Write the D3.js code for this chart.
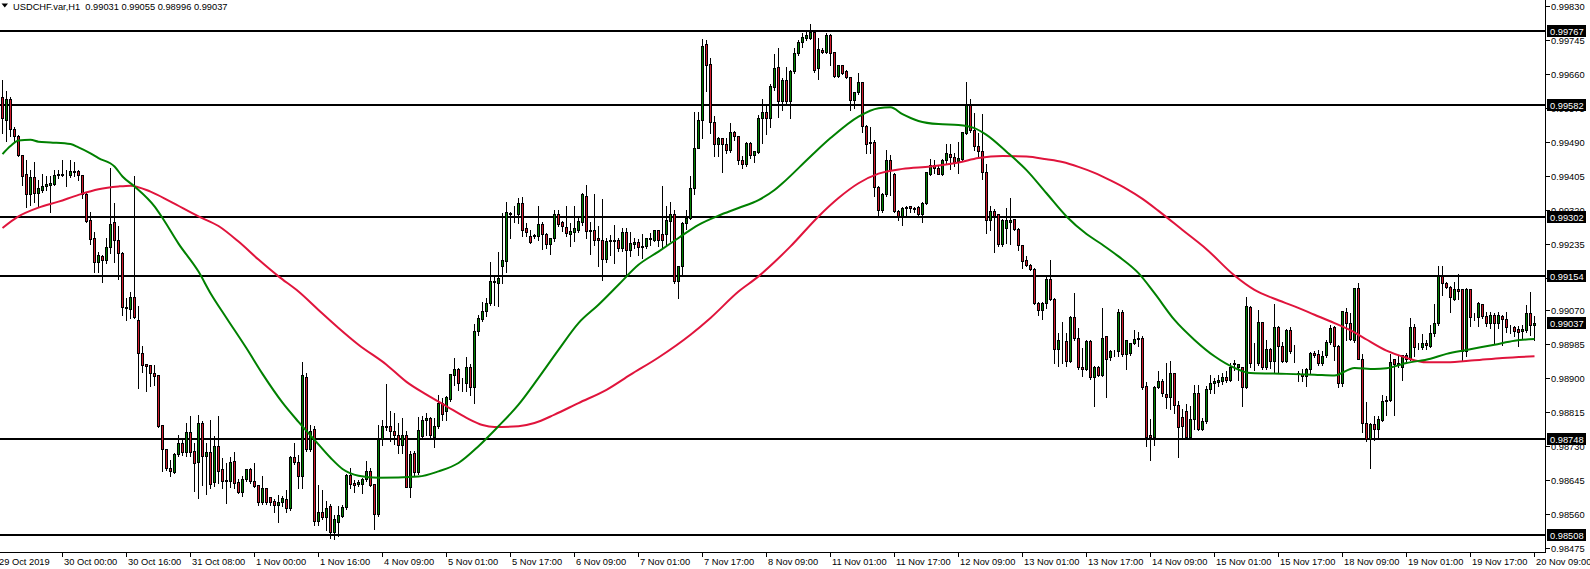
<!DOCTYPE html>
<html><head><meta charset="utf-8">
<script src="https://cdn.jsdelivr.net/npm/d3@7"></script>
<style>
html,body{margin:0;padding:0;background:#fff;overflow:hidden;}
svg{display:block;}
text{font-family:"Liberation Sans",Arial,sans-serif;}
</style></head><body>
<svg id="chart" width="1590" height="569"></svg>
<script>
// ---------------- DATA ----------------
const symbolTitle = "USDCHF.var,H1";
const headerValues = ["0.99031", "0.99055", "0.98996", "0.99037"];
const lastPrice = 0.99037;

// hourly candles [open, high, low, close], first bar 29 Oct 2019 09:00
const ohlc = [
[0.99602,0.99645,0.99514,0.99550],[0.99545,0.99618,0.99494,0.99597],[0.99597,0.99602,0.99505,0.99522],[0.99522,0.99529,0.99494,0.99504],
[0.99504,0.99508,0.99454,0.99456],[0.99456,0.99458,0.99383,0.99405],[0.99410,0.99446,0.99327,0.99360],[0.99360,0.99420,0.99333,0.99402],
[0.99402,0.99439,0.99341,0.99362],[0.99362,0.99396,0.99330,0.99373],[0.99369,0.99410,0.99366,0.99379],[0.99380,0.99404,0.99370,0.99383],
[0.99381,0.99405,0.99316,0.99386],[0.99385,0.99420,0.99383,0.99406],[0.99407,0.99420,0.99400,0.99410],[0.99407,0.99444,0.99404,0.99410],
[0.99407,0.99420,0.99381,0.99406],[0.99407,0.99446,0.99402,0.99417],[0.99414,0.99441,0.99405,0.99417],[0.99416,0.99420,0.99394,0.99406],
[0.99406,0.99408,0.99350,0.99360],[0.99358,0.99362,0.99289,0.99291],[0.99294,0.99316,0.99236,0.99247],[0.99250,0.99266,0.99165,0.99189],
[0.99189,0.99214,0.99166,0.99206],[0.99204,0.99208,0.99140,0.99194],[0.99194,0.99250,0.99187,0.99225],[0.99225,0.99425,0.99212,0.99285],
[0.99290,0.99337,0.99190,0.99245],[0.99245,0.99279,0.99147,0.99212],[0.99212,0.99214,0.99058,0.99077],[0.99077,0.99100,0.99045,0.99073],
[0.99072,0.99116,0.99050,0.99102],[0.99102,0.99405,0.99050,0.99052],[0.99043,0.99079,0.98875,0.98960],[0.98962,0.98980,0.98914,0.98930],
[0.98934,0.98935,0.98866,0.98929],[0.98931,0.98933,0.98879,0.98910],[0.98910,0.98931,0.98883,0.98904],[0.98906,0.98908,0.98776,0.98779],
[0.98780,0.98783,0.98666,0.98720],[0.98720,0.98722,0.98670,0.98672],[0.98673,0.98695,0.98655,0.98665],[0.98664,0.98712,0.98662,0.98708],
[0.98708,0.98758,0.98704,0.98737],[0.98737,0.98745,0.98708,0.98712],[0.98714,0.98786,0.98704,0.98764],[0.98764,0.98804,0.98704,0.98714],
[0.98715,0.98737,0.98616,0.98685],[0.98687,0.98806,0.98600,0.98785],[0.98785,0.98791,0.98633,0.98704],[0.98704,0.98737,0.98610,0.98712],
[0.98712,0.98794,0.98625,0.98633],[0.98637,0.98754,0.98630,0.98729],[0.98729,0.98804,0.98637,0.98665],[0.98670,0.98700,0.98625,0.98641],
[0.98640,0.98687,0.98587,0.98644],[0.98640,0.98701,0.98627,0.98687],[0.98690,0.98714,0.98625,0.98636],[0.98637,0.98647,0.98612,0.98614],
[0.98612,0.98654,0.98604,0.98645],[0.98645,0.98672,0.98641,0.98670],[0.98670,0.98675,0.98637,0.98641],[0.98640,0.98687,0.98627,0.98629],
[0.98630,0.98633,0.98581,0.98587],[0.98587,0.98655,0.98585,0.98622],[0.98622,0.98624,0.98585,0.98589],[0.98600,0.98601,0.98583,0.98587],
[0.98590,0.98596,0.98564,0.98580],[0.98580,0.98608,0.98540,0.98589],[0.98587,0.98604,0.98579,0.98597],[0.98596,0.98620,0.98565,0.98572],
[0.98572,0.98704,0.98570,0.98700],[0.98700,0.98737,0.98685,0.98687],[0.98687,0.98708,0.98625,0.98654],[0.98654,0.98940,0.98625,0.98905],
[0.98900,0.98912,0.98716,0.98720],[0.98720,0.98783,0.98716,0.98766],[0.98770,0.98779,0.98533,0.98541],[0.98541,0.98633,0.98533,0.98562],
[0.98562,0.98620,0.98547,0.98550],[0.98550,0.98591,0.98520,0.98572],[0.98579,0.98585,0.98500,0.98512],[0.98512,0.98558,0.98498,0.98545],
[0.98537,0.98579,0.98505,0.98555],[0.98554,0.98583,0.98552,0.98575],[0.98575,0.98660,0.98572,0.98656],[0.98656,0.98675,0.98625,0.98633],
[0.98636,0.98644,0.98614,0.98631],[0.98633,0.98645,0.98630,0.98637],[0.98633,0.98650,0.98612,0.98645],[0.98645,0.98691,0.98643,0.98666],
[0.98666,0.98675,0.98629,0.98631],[0.98633,0.98635,0.98522,0.98558],[0.98558,0.98783,0.98554,0.98745],[0.98745,0.98795,0.98733,0.98779],
[0.98776,0.98885,0.98770,0.98779],[0.98779,0.98816,0.98741,0.98765],[0.98765,0.98812,0.98735,0.98756],[0.98756,0.98787,0.98712,0.98731],
[0.98731,0.98800,0.98712,0.98756],[0.98756,0.98768,0.98626,0.98626],[0.98625,0.98716,0.98601,0.98708],[0.98710,0.98716,0.98655,0.98662],
[0.98662,0.98801,0.98660,0.98768],[0.98754,0.98804,0.98750,0.98793],[0.98793,0.98812,0.98758,0.98798],[0.98798,0.98801,0.98750,0.98756],
[0.98750,0.98800,0.98726,0.98779],[0.98779,0.98858,0.98775,0.98835],[0.98835,0.98850,0.98795,0.98808],[0.98816,0.98854,0.98795,0.98850],
[0.98846,0.98910,0.98841,0.98908],[0.98906,0.98950,0.98883,0.98920],[0.98920,0.98925,0.98870,0.98885],[0.98885,0.98900,0.98866,0.98886],
[0.98885,0.98951,0.98866,0.98925],[0.98925,0.98935,0.98858,0.98876],[0.98876,0.99035,0.98837,0.99016],[0.99015,0.99058,0.99008,0.99048],
[0.99045,0.99091,0.99043,0.99065],[0.99065,0.99100,0.99054,0.99085],[0.99085,0.99191,0.99083,0.99140],[0.99139,0.99158,0.99083,0.99141],
[0.99137,0.99215,0.99079,0.99148],[0.99179,0.99312,0.99137,0.99193],[0.99191,0.99341,0.99166,0.99315],[0.99308,0.99316,0.99251,0.99312],
[0.99308,0.99329,0.99291,0.99310],[0.99308,0.99350,0.99287,0.99337],[0.99337,0.99352,0.99254,0.99270],[0.99273,0.99287,0.99254,0.99265],
[0.99255,0.99270,0.99237,0.99240],[0.99253,0.99260,0.99250,0.99256],[0.99254,0.99329,0.99245,0.99285],[0.99285,0.99291,0.99223,0.99260],
[0.99260,0.99262,0.99225,0.99233],[0.99233,0.99251,0.99211,0.99248],[0.99248,0.99320,0.99243,0.99308],[0.99310,0.99320,0.99279,0.99283],
[0.99289,0.99293,0.99268,0.99279],[0.99276,0.99330,0.99254,0.99261],[0.99260,0.99287,0.99229,0.99266],[0.99265,0.99330,0.99243,0.99273],
[0.99270,0.99306,0.99266,0.99291],[0.99290,0.99362,0.99283,0.99358],[0.99355,0.99383,0.99251,0.99266],[0.99270,0.99290,0.99210,0.99266],
[0.99268,0.99360,0.99233,0.99243],[0.99248,0.99279,0.99181,0.99243],[0.99245,0.99348,0.99145,0.99195],[0.99195,0.99250,0.99190,0.99241],
[0.99241,0.99258,0.99208,0.99245],[0.99245,0.99283,0.99187,0.99241],[0.99245,0.99251,0.99218,0.99223],[0.99223,0.99275,0.99218,0.99265],
[0.99265,0.99275,0.99160,0.99218],[0.99218,0.99265,0.99204,0.99237],[0.99235,0.99250,0.99226,0.99240],[0.99240,0.99248,0.99208,0.99225],
[0.99226,0.99260,0.99201,0.99228],[0.99229,0.99250,0.99226,0.99248],[0.99247,0.99262,0.99233,0.99250],[0.99245,0.99268,0.99243,0.99268],
[0.99268,0.99270,0.99229,0.99243],[0.99260,0.99379,0.99226,0.99243],[0.99258,0.99329,0.99231,0.99293],[0.99291,0.99341,0.99243,0.99310],
[0.99310,0.99320,0.99137,0.99141],[0.99141,0.99181,0.99101,0.99179],[0.99179,0.99291,0.99160,0.99287],[0.99287,0.99320,0.99273,0.99300],
[0.99300,0.99406,0.99298,0.99373],[0.99373,0.99565,0.99360,0.99475],[0.99475,0.99565,0.99474,0.99545],[0.99545,0.99748,0.99500,0.99730],
[0.99733,0.99745,0.99618,0.99681],[0.99685,0.99700,0.99512,0.99540],[0.99540,0.99556,0.99454,0.99485],[0.99485,0.99504,0.99454,0.99498],
[0.99498,0.99501,0.99414,0.99485],[0.99485,0.99500,0.99462,0.99468],[0.99468,0.99537,0.99466,0.99515],[0.99515,0.99518,0.99495,0.99503],
[0.99504,0.99506,0.99435,0.99445],[0.99445,0.99456,0.99426,0.99435],[0.99433,0.99491,0.99431,0.99487],[0.99487,0.99490,0.99451,0.99456],
[0.99456,0.99468,0.99440,0.99466],[0.99465,0.99558,0.99462,0.99550],[0.99550,0.99598,0.99487,0.99565],[0.99565,0.99583,0.99510,0.99550],
[0.99550,0.99635,0.99529,0.99628],[0.99626,0.99710,0.99620,0.99675],[0.99676,0.99725,0.99554,0.99591],[0.99591,0.99650,0.99570,0.99645],
[0.99645,0.99679,0.99587,0.99591],[0.99591,0.99670,0.99550,0.99666],[0.99666,0.99725,0.99662,0.99712],[0.99712,0.99745,0.99708,0.99739],
[0.99739,0.99764,0.99729,0.99752],[0.99750,0.99766,0.99745,0.99758],[0.99750,0.99785,0.99747,0.99764],[0.99765,0.99766,0.99666,0.99670],
[0.99675,0.99750,0.99647,0.99722],[0.99720,0.99725,0.99712,0.99714],[0.99714,0.99762,0.99712,0.99758],[0.99758,0.99760,0.99683,0.99712],
[0.99715,0.99716,0.99652,0.99654],[0.99654,0.99683,0.99652,0.99681],[0.99681,0.99683,0.99660,0.99662],[0.99666,0.99670,0.99650,0.99652],
[0.99652,0.99654,0.99570,0.99594],[0.99594,0.99616,0.99575,0.99614],[0.99614,0.99662,0.99610,0.99639],[0.99639,0.99641,0.99516,0.99529],
[0.99530,0.99533,0.99462,0.99485],[0.99489,0.99529,0.99462,0.99487],[0.99490,0.99496,0.99354,0.99377],[0.99377,0.99379,0.99305,0.99320],
[0.99320,0.99362,0.99316,0.99358],[0.99358,0.99470,0.99355,0.99443],[0.99443,0.99458,0.99358,0.99420],[0.99410,0.99412,0.99314,0.99316],
[0.99316,0.99320,0.99295,0.99304],[0.99304,0.99327,0.99283,0.99323],[0.99323,0.99329,0.99304,0.99327],[0.99329,0.99330,0.99316,0.99323],
[0.99324,0.99327,0.99314,0.99322],[0.99327,0.99329,0.99302,0.99310],[0.99310,0.99339,0.99290,0.99337],[0.99337,0.99416,0.99335,0.99414],
[0.99410,0.99447,0.99408,0.99432],[0.99432,0.99445,0.99412,0.99423],[0.99423,0.99429,0.99410,0.99410],[0.99410,0.99447,0.99408,0.99445],
[0.99445,0.99485,0.99437,0.99462],[0.99460,0.99485,0.99423,0.99451],[0.99451,0.99462,0.99430,0.99439],[0.99441,0.99491,0.99412,0.99450],
[0.99447,0.99516,0.99445,0.99515],[0.99512,0.99640,0.99510,0.99581],[0.99581,0.99598,0.99516,0.99520],[0.99520,0.99562,0.99469,0.99479],
[0.99480,0.99512,0.99454,0.99466],[0.99466,0.99560,0.99397,0.99414],[0.99414,0.99435,0.99262,0.99295],[0.99294,0.99329,0.99269,0.99316],
[0.99316,0.99322,0.99215,0.99305],[0.99308,0.99310,0.99229,0.99233],[0.99233,0.99297,0.99231,0.99295],[0.99275,0.99325,0.99237,0.99294],
[0.99290,0.99350,0.99235,0.99294],[0.99297,0.99298,0.99271,0.99272],[0.99272,0.99275,0.99220,0.99231],[0.99231,0.99233,0.99175,0.99191],
[0.99193,0.99205,0.99179,0.99180],[0.99181,0.99185,0.99170,0.99172],[0.99172,0.99175,0.99085,0.99087],[0.99087,0.99089,0.99058,0.99069],
[0.99069,0.99089,0.99047,0.99087],[0.99085,0.99154,0.99075,0.99145],[0.99145,0.99195,0.99095,0.99097],[0.99097,0.99099,0.98937,0.98970],
[0.98970,0.99012,0.98929,0.98993],[0.98991,0.99041,0.98937,0.98990],[0.98991,0.99012,0.98930,0.98941],[0.98941,0.99054,0.98939,0.99052],
[0.99052,0.99112,0.98995,0.98999],[0.98999,0.99025,0.98922,0.98925],[0.98927,0.98975,0.98904,0.98922],[0.98922,0.98994,0.98920,0.98991],
[0.98991,0.98994,0.98897,0.98900],[0.98900,0.98929,0.98829,0.98925],[0.98926,0.98929,0.98904,0.98905],[0.98905,0.99075,0.98904,0.98999],
[0.99004,0.99005,0.98852,0.98947],[0.98950,0.98970,0.98945,0.98966],[0.98966,0.98969,0.98954,0.98965],[0.98966,0.99072,0.98954,0.99064],
[0.99064,0.99069,0.98955,0.98958],[0.98958,0.98995,0.98922,0.98994],[0.98960,0.98987,0.98958,0.98985],[0.98987,0.99019,0.98985,0.98995],
[0.98999,0.99016,0.98979,0.98995],[0.98999,0.99004,0.98872,0.98875],[0.98879,0.98889,0.98729,0.98752],[0.98756,0.98796,0.98694,0.98752],
[0.98752,0.98879,0.98733,0.98877],[0.98877,0.98916,0.98875,0.98890],[0.98890,0.98896,0.98854,0.98860],[0.98858,0.98937,0.98825,0.98850],
[0.98850,0.98941,0.98822,0.98910],[0.98910,0.98912,0.98812,0.98831],[0.98831,0.98841,0.98701,0.98775],[0.98800,0.98822,0.98750,0.98779],
[0.98815,0.98835,0.98746,0.98752],[0.98752,0.98829,0.98750,0.98797],[0.98795,0.98883,0.98772,0.98860],[0.98860,0.98883,0.98770,0.98772],
[0.98772,0.98800,0.98770,0.98790],[0.98790,0.98879,0.98787,0.98872],[0.98872,0.98907,0.98862,0.98885],[0.98885,0.98900,0.98862,0.98891],
[0.98889,0.98908,0.98879,0.98893],[0.98891,0.98912,0.98885,0.98900],[0.98900,0.98916,0.98889,0.98893],[0.98894,0.98937,0.98891,0.98927],
[0.98935,0.98945,0.98920,0.98933],[0.98925,0.98935,0.98895,0.98933],[0.98925,0.98927,0.98829,0.98877],[0.98877,0.99102,0.98875,0.99079],
[0.99077,0.99081,0.98927,0.98935],[0.98935,0.98987,0.98920,0.98936],[0.98935,0.99070,0.98933,0.99039],[0.99039,0.99041,0.98922,0.98925],
[0.98925,0.98994,0.98922,0.98970],[0.98970,0.98975,0.98925,0.98941],[0.98941,0.99085,0.98914,0.99027],[0.99027,0.99030,0.98914,0.98979],
[0.98979,0.98991,0.98939,0.98941],[0.98941,0.99022,0.98939,0.99018],[0.99018,0.99027,0.98962,0.98965],[0.98966,0.98983,0.98939,0.98965],
[0.98912,0.98918,0.98891,0.98908],[0.98908,0.98921,0.98891,0.98904],[0.98904,0.98925,0.98879,0.98922],[0.98922,0.98964,0.98910,0.98962],
[0.98962,0.98966,0.98952,0.98955],[0.98958,0.98970,0.98933,0.98935],[0.98935,0.98966,0.98933,0.98954],[0.98955,0.98996,0.98953,0.98989],
[0.98989,0.99033,0.98985,0.99023],[0.99025,0.99029,0.98945,0.98979],[0.98979,0.98983,0.98877,0.98887],[0.98885,0.99066,0.98880,0.99065],
[0.99064,0.99076,0.98994,0.99037],[0.99037,0.99062,0.98994,0.98997],[0.98994,0.99125,0.98989,0.99123],[0.99123,0.99137,0.98947,0.98947],
[0.98947,0.98960,0.98764,0.98785],[0.98787,0.98839,0.98741,0.98745],[0.98745,0.98787,0.98675,0.98783],[0.98783,0.98804,0.98745,0.98770],
[0.98770,0.98804,0.98747,0.98795],[0.98794,0.98858,0.98791,0.98841],[0.98841,0.98854,0.98808,0.98843],[0.98844,0.98960,0.98842,0.98939],
[0.98946,0.98947,0.98808,0.98933],[0.98933,0.98954,0.98927,0.98937],[0.98925,0.98955,0.98895,0.98955],[0.98955,0.98962,0.98941,0.98947],
[0.98947,0.99050,0.98945,0.99025],[0.99027,0.99035,0.98954,0.98977],[0.98977,0.98987,0.98972,0.98975],[0.98975,0.99010,0.98972,0.98987],
[0.98985,0.98995,0.98972,0.98982],[0.98979,0.99033,0.98977,0.99010],[0.99010,0.99085,0.99005,0.99035],[0.99035,0.99180,0.99033,0.99154],
[0.99154,0.99180,0.99108,0.99135],[0.99135,0.99141,0.99125,0.99127],[0.99127,0.99129,0.99066,0.99101],[0.99095,0.99141,0.99094,0.99120],
[0.99120,0.99160,0.99097,0.99116],[0.99120,0.99122,0.98941,0.98966],[0.98966,0.99125,0.98955,0.99122],[0.99120,0.99122,0.99029,0.99050],
[0.99051,0.99062,0.99046,0.99050],[0.99050,0.99089,0.99029,0.99085],[0.99083,0.99085,0.99050,0.99054],[0.99054,0.99066,0.99029,0.99037],
[0.99037,0.99066,0.99025,0.99055],[0.99055,0.99062,0.98985,0.99037],[0.99037,0.99066,0.99025,0.99055],[0.99054,0.99058,0.98983,0.99045],
[0.99047,0.99066,0.99016,0.99027],[0.99027,0.99033,0.99012,0.99025],[0.99027,0.99030,0.99004,0.99016],[0.99020,0.99029,0.98979,0.99014],
[0.99016,0.99033,0.98999,0.99020],[0.99019,0.99083,0.99016,0.99060],[0.99062,0.99116,0.99008,0.99031],[0.99031,0.99055,0.98996,0.99037]
];

// moving averages: [bar index, value]
const maGreen = [
[0,0.99460],[2,0.99480],[4,0.99494],[7,0.99496],[9,0.99491],[12,0.99489],[17,0.99485],[19,0.99477],[22,0.99462],[24,0.99450],
[28,0.99429],[30,0.99404],[33,0.99379],[38,0.99329],[40,0.99300],[44,0.99236],[49,0.99166],[52,0.99112],[56,0.99050],[61,0.98974],
[65,0.98910],[70,0.98838],[74,0.98790],[78,0.98745],[82,0.98700],[85,0.98672],[89,0.98655],[94,0.98650],[104,0.98653],[109,0.98666],
[114,0.98687],[119,0.98729],[124,0.98779],[129,0.98833],[134,0.98900],[139,0.98970],[144,0.99037],[149,0.99083],
[154,0.99133],[159,0.99183],[164,0.99216],[169,0.99250],[174,0.99283],[179,0.99306],[184,0.99325],[189,0.99345],[193,0.99370],[195,0.99387],
[202,0.99454],[207,0.99500],[214,0.99554],[219,0.99575],[222,0.99577],[225,0.99560],[229,0.99543],[234,0.99535],[239,0.99533],[243,0.99525],
[246,0.99508],[251,0.99466],[256,0.99420],[261,0.99362],[266,0.99304],[271,0.99260],[275,0.99233],[279,0.99204],[284,0.99162],[288,0.99112],
[293,0.99045],[298,0.98995],[303,0.98954],[308,0.98925],[312,0.98912],[321,0.98910],[328,0.98908],[333,0.98906],[338,0.98925],[343,0.98922],
[346,0.98924],[351,0.98937],[357,0.98948],[361,0.98960],[366,0.98970],[373,0.98983],[378,0.98993],[383,0.98997]
];
const maRed = [
[0,0.99275],[4,0.99304],[9,0.99326],[14,0.99341],[19,0.99358],[24,0.99372],[29,0.99379],[32,0.99381],[37,0.99366],[42,0.99341],
[49,0.99304],[54,0.99280],[59,0.99241],[64,0.99196],[69,0.99154],[74,0.99116],[79,0.99070],[84,0.99025],[89,0.98983],[96,0.98933],
[101,0.98890],[106,0.98858],[111,0.98829],[116,0.98800],[120,0.98782],[123,0.98777],[129,0.98779],[133,0.98787],[138,0.98808],[144,0.98837],
[151,0.98870],[157,0.98908],[164,0.98951],[172,0.99008],[177,0.99050],[184,0.99116],[189,0.99154],[193,0.99190],[197,0.99229],[204,0.99304],
[209,0.99350],[214,0.99387],[219,0.99411],[225,0.99423],[232,0.99429],[239,0.99439],[244,0.99450],[250,0.99455],[256,0.99454],[261,0.99447],
[265,0.99440],[269,0.99428],[273,0.99413],[277,0.99394],[281,0.99373],[285,0.99348],[289,0.99318],[295,0.99270],[301,0.99222],[308,0.99156],
[313,0.99120],[318,0.99098],[323,0.99079],[328,0.99058],[333,0.99037],[338,0.99014],[341,0.98996],[346,0.98968],[351,0.98950],[356,0.98939],
[361,0.98939],[368,0.98944],[375,0.98950],[383,0.98954]
];

const levels = [0.99767, 0.99582, 0.99302, 0.99154, 0.98748, 0.98508];
const priceTicks = ["0.99830","0.99745","0.99660","0.99575","0.99490","0.99405","0.99320","0.99235","0.99150",
                    "0.99070","0.98985","0.98900","0.98815","0.98730","0.98645","0.98560","0.98475"];
const timeLabels = ["29 Oct 2019","30 Oct 00:00","30 Oct 16:00","31 Oct 08:00","1 Nov 00:00","1 Nov 16:00","4 Nov 09:00",
  "5 Nov 01:00","5 Nov 17:00","6 Nov 09:00","7 Nov 01:00","7 Nov 17:00","8 Nov 09:00","11 Nov 01:00","11 Nov 17:00",
  "12 Nov 09:00","13 Nov 01:00","13 Nov 17:00","14 Nov 09:00","15 Nov 01:00","15 Nov 17:00","18 Nov 09:00","19 Nov 01:00",
  "19 Nov 17:00","20 Nov 09:00"];
const timeLabelBars = [0,15,31,47,63,79,95,111,127,143,159,175,191,207,223,239,255,271,287,303,319,335,351,367,383];

// ---------------- DRAW ----------------
const plotRight = 1545.5, plotBottom = 552.5;
const bullColor = "#008000", bearColor = "#d01a2c";
const svg = d3.select("#chart");
const x = d3.scaleLinear().domain([0, ohlc.length - 1]).range([2.5, 1534.5]);
const y = d3.scaleLinear().domain([0.98463, 0.998456]).range([plotBottom, 0]);
const snap = v => Math.round(v - 0.5) + 0.5;

svg.append("rect").attr("width", 1590).attr("height", 569).attr("fill", "#fff");
svg.append("defs").append("clipPath").attr("id", "plot")
  .append("rect").attr("x", 0).attr("y", 0).attr("width", plotRight).attr("height", plotBottom);

const plot = svg.append("g").attr("clip-path", "url(#plot)");

// horizontal levels
plot.selectAll("line.level").data(levels).join("line")
  .attr("class", "level")
  .attr("x1", 0).attr("x2", plotRight)
  .attr("y1", d => Math.round(y(d))).attr("y2", d => Math.round(y(d)))
  .attr("stroke", "#000").attr("stroke-width", 2).attr("shape-rendering", "crispEdges");

// candles
const cg = plot.append("g").attr("shape-rendering", "crispEdges");
cg.selectAll("line.wick").data(ohlc).join("line")
  .attr("class", "wick")
  .attr("x1", (d, i) => x(i)).attr("x2", (d, i) => x(i))
  .attr("y1", d => Math.round(y(d[1]))).attr("y2", d => Math.round(y(d[2])) + 1)
  .attr("stroke", "#000").attr("stroke-width", 1);
cg.selectAll("rect.body").data(ohlc).join("rect")
  .attr("class", "body")
  .attr("x", (d, i) => x(i) - 1)
  .attr("y", d => snap(y(Math.max(d[0], d[3]))))
  .attr("width", 2)
  .attr("height", d => Math.max(0, snap(y(Math.min(d[0], d[3]))) - snap(y(Math.max(d[0], d[3])))))
  .attr("fill", d => d[3] >= d[0] ? bullColor : bearColor)
  .attr("stroke", "#000").attr("stroke-width", 1);

// moving averages
const line = d3.line().x(d => x(d[0])).y(d => y(d[1])).curve(d3.curveMonotoneX);
plot.append("path").datum(maRed).attr("d", line)
  .attr("fill", "none").attr("stroke", "#e0143c").attr("stroke-width", 2);
plot.append("path").datum(maGreen).attr("d", line)
  .attr("fill", "none").attr("stroke", "#008000").attr("stroke-width", 2);

// frame
svg.append("line").attr("x1", plotRight).attr("x2", plotRight).attr("y1", 0).attr("y2", plotBottom)
  .attr("stroke", "#000").attr("shape-rendering", "crispEdges");
svg.append("line").attr("x1", 0).attr("x2", plotRight).attr("y1", plotBottom).attr("y2", plotBottom)
  .attr("stroke", "#000").attr("shape-rendering", "crispEdges");

// price axis
const pa = svg.append("g");
priceTicks.forEach(t => {
  const yy = Math.round(y(+t)) + 0.5;
  pa.append("line").attr("x1", plotRight).attr("x2", plotRight + 4).attr("y1", yy).attr("y2", yy)
    .attr("stroke", "#000").attr("shape-rendering", "crispEdges");
  pa.append("text").attr("x", 1551).attr("y", yy + 3.5).attr("font-size", "9.3px").attr("fill", "#000").text(t);
});
const boxes = levels.concat([lastPrice]);
boxes.forEach(p => {
  const yy = Math.round(y(p));
  pa.append("rect").attr("x", 1547).attr("y", yy - 6).attr("width", 39).attr("height", 12)
    .attr("fill", "#000").attr("shape-rendering", "crispEdges");
  pa.append("text").attr("x", 1550).attr("y", yy + 3.5).attr("font-size", "9.3px").attr("fill", "#fff")
    .text(p.toFixed(5));
});

// time axis
const ta = svg.append("g");
timeLabels.forEach((t, i) => {
  const xx = snap(x(timeLabelBars[i]));
  if (i > 0) {
    ta.append("line").attr("x1", xx).attr("x2", xx).attr("y1", plotBottom).attr("y2", plotBottom + 4)
      .attr("stroke", "#000").attr("shape-rendering", "crispEdges");
  }
  ta.append("text").attr("x", i === 0 ? -1 : xx + 1.5).attr("y", 565).attr("font-size", "9.3px")
    .attr("fill", "#000").text(t);
});

// header
svg.append("path").attr("d", "M1.5,3.5 L8,3.5 L4.75,7.5 Z").attr("fill", "#000");
svg.append("text").attr("x", 13).attr("y", 9.5).attr("font-size", "9.3px").attr("fill", "#000")
  .attr("xml:space", "preserve")
  .text(symbolTitle + "  " + headerValues.join(" "));
</script>
</body></html>
